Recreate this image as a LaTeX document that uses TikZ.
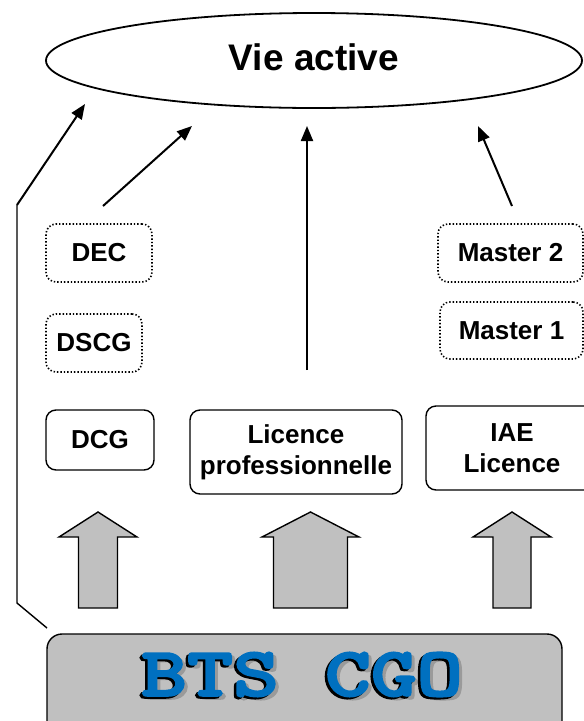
\documentclass[tikz,border=0pt]{standalone}
\usepackage{fontspec}
\setmainfont{Liberation Sans}
\newfontfamily\btsfont{lmmonolt10-bold.otf}[FakeBold=2.5]
\usepackage{graphicx}
\usetikzlibrary{shapes.geometric,arrows.meta}
\definecolor{boxgray}{HTML}{C0C0C0}
\definecolor{btsblue}{HTML}{0070C0}
\definecolor{shadowgray}{HTML}{9A9A9A}
\newcommand\btstitre{\scalebox{1.25}[1]{%
	\rlap{\hspace{2.5pt}\raisebox{-3pt}{\color{shadowgray}BTS CGO}}%
	\rlap{\hspace{-2pt}\raisebox{-2pt}{\color{black}BTS CGO}}%
	{\color{btsblue}BTS CGO}}}

\begin{document}
\begin{tikzpicture}[x=1pt,y=-1pt,
		diplome/.style={rectangle, rounded corners=10pt, draw=black, line width=1.4pt,
			align=center, inner sep=0pt, font=\fontsize{26}{31}\selectfont\bfseries},
		futur/.style={diplome, dotted, line width=1.6pt},
		fleche/.style={line width=2pt, -{Triangle[length=15pt,width=12pt]}},
		bloc/.style={fill=boxgray, draw=black, line width=1.4pt},
		btstext/.style={inner sep=0pt, font=\fontsize{70}{70}\btsfont}]
		\clip (0,0) rectangle (584,721);

		% objectif
		\node[ellipse, draw=black, line width=1.8pt, minimum width=536pt, minimum height=95pt,
			inner sep=0pt, text height=27pt, text depth=8pt,
			font=\fontsize{37}{40}\selectfont\bfseries] (vie) at (314,60.5) {Vie active};

		% filiere expertise
		\node[futur, minimum width=106pt, minimum height=58pt] (dec) at (99,253) {DEC};
		\node[futur, minimum width=96pt, minimum height=58pt] (dscg) at (94,343) {DSCG};
		\node[diplome, minimum width=108pt, minimum height=60pt] (dcg) at (100,440) {DCG};

		% licences
		\node[diplome, minimum width=212pt, minimum height=84pt] (licpro) at (296,452) {Licence\\professionnelle};
		\node[diplome, minimum width=172pt, minimum height=84pt] (iae) at (512,448) {IAE\\Licence};

		% masters
		\node[futur, minimum width=145pt, minimum height=58pt] (mastera) at (510.5,253) {Master 2};
		\node[futur, minimum width=143pt, minimum height=57pt] (masterb) at (511.5,330.5) {Master 1};

		% BTS
		\node[bloc, rectangle, rounded corners=15pt, minimum width=515pt, minimum height=120pt] (bts) at (304.5,694) {};
		\node[btstext] (btstitre) at (302,676) {\btstitre};

		% poursuites
		\foreach \x/\s/\h in {98/19.5/39, 310.5/37/48.5, 512/19/39}
			\draw[bloc] ({\x-\s},608) -- ({\x-\s},537) -- ({\x-\h},537) -- (\x,512)
				-- ({\x+\h},537) -- ({\x+\s},537) -- ({\x+\s},608) -- cycle;

		% vers la vie active
		\coordinate (g0) at (47,628);
		\coordinate (g1) at (17,603);
		\coordinate (g2) at (17,205);
		\coordinate (g3) at (85,104);
		\draw[line width=1.4pt] (g0) -- (g1) -- (g2);
		\draw[fleche] (g2) -- (g3);

		\coordinate (d0) at (103,206);
		\coordinate (d1) at (192,126);
		\draw[fleche] (d0) -- (d1);

		\coordinate (l0) at (307,370);
		\coordinate (l1) at (307,126);
		\draw[fleche] (l0) -- (l1);

		\coordinate (m0) at (512,206);
		\coordinate (m1) at (478,126);
		\draw[fleche] (m0) -- (m1);
	\end{tikzpicture}
\end{document}
